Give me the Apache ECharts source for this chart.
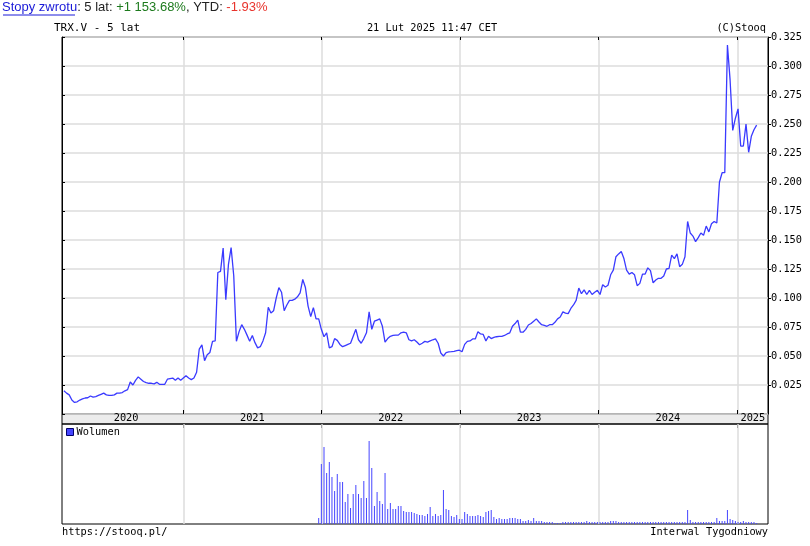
<!DOCTYPE html>
<html><head><meta charset="utf-8">
<script src="https://cdn.jsdelivr.net/npm/echarts@6/dist/echarts.min.js"></script>
<style>html,body{margin:0;padding:0;background:#fff}#c{width:810px;height:546px}</style>
</head><body><div id="c"></div>
<script>
// ---- data ----
const startDate = '2020-02-21';           // first weekly close
const axisRange = ['2020-02-16', '2025-03-23'];
const prices = [
0.020,0.018,0.0165,0.012,0.010,0.0105,0.012,0.013,0.0138,0.014,
0.0155,0.0145,0.015,0.016,0.017,0.018,0.0165,0.016,0.016,0.0165,
0.018,0.018,0.0185,0.020,0.021,0.0276,0.025,0.029,0.032,0.030,
0.028,0.027,0.0265,0.0265,0.026,0.0273,0.0256,0.0256,0.0256,0.030,
0.0305,0.031,0.029,0.031,0.029,0.031,0.033,0.031,0.0296,0.031,
0.036,0.056,0.0595,0.046,0.051,0.053,0.0626,0.063,0.122,0.123,
0.143,0.0986,0.129,0.1435,0.119,0.0627,0.071,0.077,0.073,0.068,
0.0627,0.0677,0.0615,0.057,0.058,0.063,0.070,0.092,0.087,0.089,
0.100,0.109,0.105,0.089,0.094,0.098,0.098,0.099,0.101,0.1045,
0.116,0.109,0.093,0.084,0.0917,0.082,0.082,0.073,0.0666,0.070,
0.057,0.058,0.065,0.0635,0.060,0.058,0.059,0.060,0.061,0.067,
0.073,0.064,0.061,0.065,0.070,0.088,0.073,0.080,0.081,0.082,
0.0756,0.062,0.065,0.067,0.0677,0.068,0.068,0.070,0.0705,0.070,
0.064,0.063,0.064,0.062,0.0597,0.061,0.0626,0.062,0.063,0.064,
0.0647,0.061,0.0526,0.050,0.053,0.0535,0.0537,0.054,0.0546,0.055,
0.0537,0.060,0.0626,0.063,0.0647,0.0647,0.071,0.069,0.0686,0.063,
0.067,0.065,0.066,0.0666,0.067,0.067,0.0677,0.069,0.070,0.0756,
0.078,0.081,0.0705,0.0705,0.073,0.0767,0.078,0.080,0.082,0.0793,
0.077,0.0764,0.0756,0.077,0.077,0.079,0.082,0.0836,0.088,0.087,
0.0865,0.091,0.094,0.098,0.1086,0.1037,0.107,0.103,0.1066,0.103,
0.105,0.1066,0.103,0.1115,0.1095,0.111,0.120,0.124,0.1356,0.138,
0.140,0.134,0.124,0.1206,0.122,0.120,0.1106,0.1126,0.1206,0.1206,
0.126,0.1236,0.113,0.1155,0.117,0.117,0.119,0.125,0.1256,0.137,
0.134,0.138,0.127,0.129,0.1356,0.166,0.156,0.1534,0.1486,0.152,
0.156,0.154,0.162,0.157,0.164,0.166,0.1646,0.200,0.208,0.208,
0.318,0.288,0.2445,0.255,0.263,0.231,0.231,0.250,0.2256,0.2394,
0.245,0.249
];
const volumes = [
0,0,0,0,0,0,0,0,0,0, 0,0,0,0,0,0,0,0,0,0,
0,0,0,0,0,0,0,0,0,0, 0,0,0,0,0,0,0,0,0,0,
0,0,0,0,0,0,0,0,0,0, 0,0,0,0,0,0,0,0,0,0,
0,0,0,0,0,0,0,0,0,0, 0,0,0,0,0,0,0,0,0,0,
0,0,0,0,0,0,0,0,0,0, 0,0,0,0,0,0,6,60,77,51,
62,47,33,50,42,42,22,30,16,30, 39,30,26,43,26,83,56,18,32,23,
20,51,15,21,15,15,18,18,13,12, 12,12,11,10,9,9,8,10,17,8,
10,8,9,34,15,14,8,7,9,5, 5,12,10,8,8,8,9,8,7,12,
13,14,7,5,6,5,5,5,6,6, 6,5,5,3,3,4,3,6,3,3,
3,2,2,2,2,1,1,1,2,2, 2,2,2,2,2,2,2,3,2,2,
2,2,2,2,2,2,3,3,3,2, 2,2,2,2,2,2,2,2,2,2,
2,2,2,2,2,2,2,2,2,2, 2,2,2,2,2,14,4,2,2,2,
2,2,2,2,2,2,6,3,3,3, 14,5,4,3,2,2,3,2,2,2,
2,1
];
const yearTickDates = ['2021-01-01','2022-01-01','2023-01-01','2024-01-01','2025-01-01'];
const yearLabelDates = ['2020-08-03','2021-07-02','2022-07-02','2023-07-02','2024-07-02','2025-02-11'];
const yearLabels = ['2020','2021','2022','2023','2024','2025'];
const priceTicks = {min: 0, max: 0.325, step: 0.025};
const seriesName = 'TRX.V';
const volumeName = 'Wolumen';

// ---- build ----
const DAY = 864e5;
const t0 = Date.parse(startDate);
const dates = prices.map((_, i) => t0 + i * 7 * DAY);
const priceData = prices.map((v, i) => [dates[i], v]);
const volData = volumes.map((v, i) => [dates[i], v]);
const xMin = Date.parse(axisRange[0]), xMax = Date.parse(axisRange[1]);
const yearTicks = yearTickDates.map(d => Date.parse(d));
const labelTicks = yearLabelDates.map(d => Date.parse(d));
const MONO = 'DejaVu Sans Mono';
const FS = 10.3;
const GRID_C = '#dcdcdc';

const L = 62, R = 42;
const chart = echarts.init(document.getElementById('c'), null, {renderer: 'canvas'});
const baseX = (gi, extra) => Object.assign({
  type: 'value', gridIndex: gi, min: xMin, max: xMax, scale: true,
  axisLine: {show: false, onZero: false},
  axisLabel: {show: false},
  axisTick: {show: false},
  splitLine: {show: false}
}, extra);

chart.setOption({
  animation: false,
  backgroundColor: '#fff',
  grid: [
    {left: L, right: R, top: 37, height: 377, show: true, borderColor: '#000', borderWidth: 1, backgroundColor: 'transparent'},
    {left: L, right: R, top: 414, height: 10, show: true, borderColor: '#000', borderWidth: 1, backgroundColor: '#ececec'},
    {left: L, right: R, top: 424, height: 100, show: true, borderColor: '#000', borderWidth: 1, backgroundColor: 'transparent'}
  ],
  xAxis: [
    baseX(0, {position: 'bottom',
      axisTick: {show: true, inside: true, length: 4, customValues: yearTicks, lineStyle: {color: '#000'}},
      axisLabel: {show: false, customValues: yearTicks},
      splitLine: {show: true, lineStyle: {color: GRID_C, width: 1.5}}}),
    baseX(0, {position: 'top',
      axisTick: {show: true, inside: true, length: 3, customValues: yearTicks, lineStyle: {color: '#000'}},
      axisLabel: {show: false, customValues: yearTicks}}),
    baseX(1, {position: 'bottom',
      axisTick: {show: false, customValues: labelTicks},
      axisLabel: {show: true, inside: true, margin: 1, customValues: labelTicks,
        fontFamily: MONO, fontSize: FS, color: '#000',
        formatter: v => { const k = labelTicks.indexOf(v); return k >= 0 ? yearLabels[k] : ''; }}}),
    baseX(2, {position: 'top',
      axisTick: {show: true, inside: true, length: 4, customValues: yearTicks, lineStyle: {color: '#000'}},
      axisLabel: {show: false, customValues: yearTicks}})
  ],
  yAxis: [
    {type: 'value', gridIndex: 0, position: 'right', min: priceTicks.min, max: priceTicks.max, interval: priceTicks.step,
      axisLine: {show: true, onZero: false, lineStyle: {color: '#000'}},
      axisTick: {show: true, length: 3, lineStyle: {color: '#000'}},
      axisLabel: {show: true, showMinLabel: false, margin: 3, fontFamily: MONO, fontSize: FS, color: '#000',
        formatter: v => v.toFixed(3)},
      splitLine: {show: true, lineStyle: {color: GRID_C, width: 1.5}}},
    {type: 'value', gridIndex: 0, position: 'left', min: priceTicks.min, max: priceTicks.max, interval: priceTicks.step,
      axisLine: {show: true, onZero: false, lineStyle: {color: '#000'}},
      axisTick: {show: true, inside: true, length: 3, lineStyle: {color: '#000'}},
      axisLabel: {show: false}, splitLine: {show: false}},
    {type: 'value', gridIndex: 1, min: 0, max: 1, show: false},
    {type: 'value', gridIndex: 2, min: 0, max: 100, show: false}
  ],
  legend: {
    data: [volumeName], left: 66, top: 427, padding: 0, itemGap: 0,
    icon: 'rect', itemWidth: 7, itemHeight: 7,
    itemStyle: {borderColor: '#00006a', borderWidth: 1},
    textStyle: {fontFamily: MONO, fontSize: FS, color: '#000', padding: [0, 0, 0, -2]},
    selectedMode: false
  },
  series: [
    {name: seriesName, type: 'line', xAxisIndex: 0, yAxisIndex: 0, data: priceData,
      showSymbol: false, symbol: 'none', lineStyle: {color: '#3a3aff', width: 1.3}, color: '#3a3aff', z: 5},
    {name: volumeName, type: 'bar', xAxisIndex: 3, yAxisIndex: 3, data: volData,
      barWidth: 1, itemStyle: {color: '#4545ff'}, color: '#0000ff', z: 3,
      markLine: {
        silent: true, symbol: ['none', 'none'], z: 1, animation: false,
        label: {show: false},
        lineStyle: {color: GRID_C, width: 1.5, type: 'solid'},
        emphasis: {disabled: true},
        data: yearTicks.map(t => ({xAxis: t}))
      }}
  ],
  graphic: [
    {type: 'text', left: 2, top: 1, style: {
      text: '{a|Stopy zwrotu}{b|: 5 lat: }{g|+1 153.68%}{b|, YTD: }{r|-1.93%}',
      rich: {
        a: {fontFamily: 'Liberation Sans', fontSize: 13, fill: '#1a1ad8'},
        b: {fontFamily: 'Liberation Sans', fontSize: 13, fill: '#222'},
        g: {fontFamily: 'Liberation Sans', fontSize: 13, fill: '#1d7a1d'},
        r: {fontFamily: 'Liberation Sans', fontSize: 13, fill: '#e8332c'}
      }}},
    {type: 'line', shape: {x1: 3, y1: 15, x2: 75, y2: 15}, style: {stroke: '#1a1ad8', lineWidth: 1}},
    {type: 'text', x: 54, y: 28, style: {text: 'TRX.V - 5 lat', font: '11px "' + MONO + '"', fill: '#000', verticalAlign: 'middle'}},
    {type: 'text', x: 432, y: 28, style: {text: '21 Lut 2025 11:47 CET', font: FS + 'px "' + MONO + '"', fill: '#000', align: 'center', verticalAlign: 'middle'}},
    {type: 'text', x: 766, y: 28, style: {text: '(C)Stooq', font: FS + 'px "' + MONO + '"', fill: '#000', align: 'right', verticalAlign: 'middle'}},
    {type: 'text', x: 62, y: 532, style: {text: 'https://stooq.pl/', font: FS + 'px "' + MONO + '"', fill: '#000', verticalAlign: 'middle'}},
    {type: 'text', x: 768, y: 532, style: {text: 'Interwal Tygodniowy', font: FS + 'px "' + MONO + '"', fill: '#000', align: 'right', verticalAlign: 'middle'}}
  ]
});
</script></body></html>
